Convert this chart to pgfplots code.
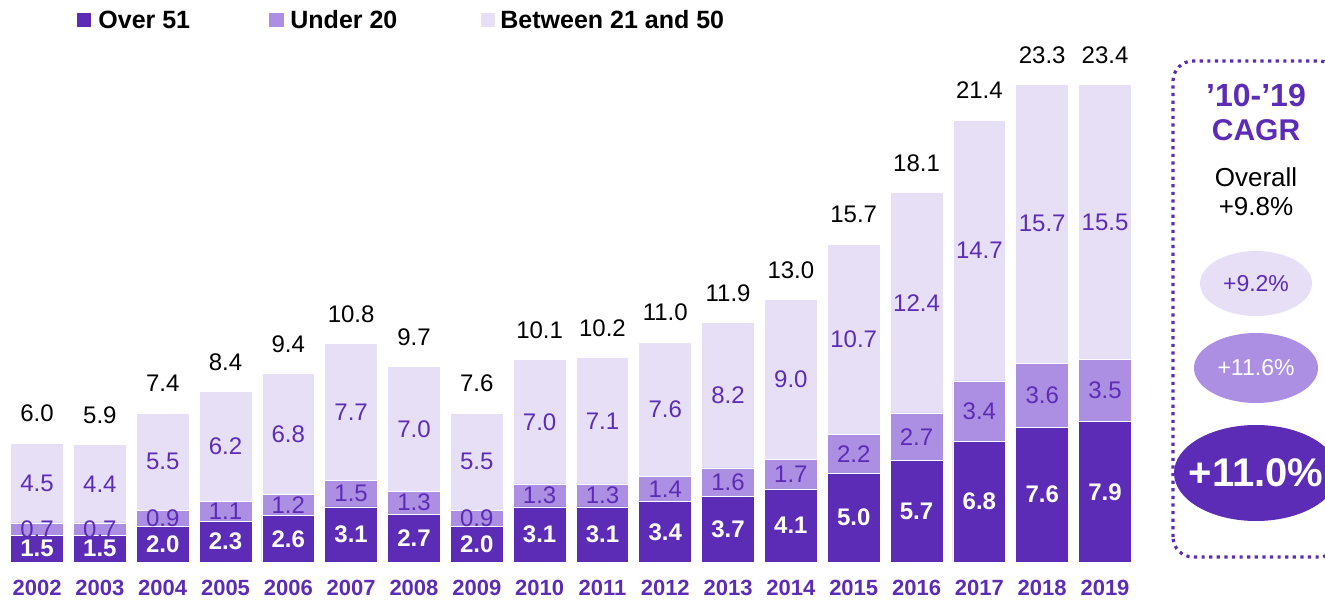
\documentclass[border=0pt]{standalone}
\usepackage{fontspec}
\setmainfont{Liberation Sans}
\usepackage{pgfplots}
\usepackage{pgfplotstable}
\pgfplotsset{compat=1.18}
\definecolor{cdark}{RGB}{92,44,183}
\definecolor{cmed}{RGB}{172,142,226}
\definecolor{clight}{RGB}{230,223,246}

\pgfplotstableread{
year over under between total
2002 1.5 0.7 4.5 6.0
2003 1.5 0.7 4.4 5.9
2004 2.0 0.9 5.5 7.4
2005 2.3 1.1 6.2 8.4
2006 2.6 1.2 6.8 9.4
2007 3.1 1.5 7.7 10.8
2008 2.7 1.3 7.0 9.7
2009 2.0 0.9 5.5 7.6
2010 3.1 1.3 7.0 10.1
2011 3.1 1.3 7.1 10.2
2012 3.4 1.4 7.6 11.0
2013 3.7 1.6 8.2 11.9
2014 4.1 1.7 9.0 13.0
2015 5.0 2.2 10.7 15.7
2016 5.7 2.7 12.4 18.1
2017 6.8 3.4 14.7 21.4
2018 7.6 3.6 15.7 23.3
2019 7.9 3.5 15.5 23.4
}\datatable

\pgfplotsset{
  commonaxis/.style={
    at={(0,0)}, anchor=south west,
    scale only axis,
    x=31.41pt, y=8.875pt,
    xmin=2001.45, xmax=2019.55, ymin=0, ymax=28,
    clip=false,
  },
  lbl/.style={
    draw=none, mark=none,
    nodes near coords={\pgfmathprintnumber[fixed,fixed zerofill,precision=1,assume math mode=true]{\pgfplotspointmeta}},
    every node near coord/.append style={anchor=center, inner sep=0pt},
  },
}

\begin{document}
\begin{tikzpicture}
\begin{axis}[
  commonaxis,
  ybar stacked, bar width=26.4pt,
  axis line style={draw=none},
  ytick=\empty,
  xtick={2002,2003,2004,2005,2006,2007,2008,2009,2010,2011,2012,2013,2014,2015,2016,2017,2018,2019},
  xticklabels={2002,2003,2004,2005,2006,2007,2008,2009,2010,2011,2012,2013,2014,2015,2016,2017,2018,2019},
  xtick style={draw=none},
  xticklabel style={font=\fontsize{11}{13}\selectfont\bfseries, text=cdark, anchor=center, yshift=-13pt},
]
\addplot[fill=cdark, draw=white, line width=0.4pt] table[x=year, y=over]{\datatable};
\addplot[fill=cmed, draw=white, line width=0.4pt] table[x=year, y=under]{\datatable};
\addplot[fill=clight, draw=white, line width=0.4pt] table[x=year, y=between]{\datatable};
\end{axis}

\begin{axis}[commonaxis, hide axis, point meta=explicit]
\addplot[lbl, every node near coord/.append style={font=\bfseries\fontsize{12}{14}\selectfont, text=white}]
  table[x=year, y expr=0.5*\thisrow{over}, meta=over]{\datatable};
\addplot[lbl, every node near coord/.append style={font=\fontsize{12}{14}\selectfont, text=cdark}]
  table[x=year, y expr=\thisrow{over}+0.5*\thisrow{under}, meta=under]{\datatable};
\addplot[lbl, every node near coord/.append style={font=\fontsize{12}{14}\selectfont, text=cdark}]
  table[x=year, y expr=\thisrow{over}+\thisrow{under}+0.5*\thisrow{between}, meta=between]{\datatable};
\addplot[lbl, every node near coord/.append style={font=\fontsize{12}{14}\selectfont, text=black, yshift=14.75pt}]
  table[x=year, y expr=\thisrow{over}+\thisrow{under}+\thisrow{between}, meta=total]{\datatable};
\end{axis}

% legend
\fill[cdark] (37.25pt,267.5pt) rectangle (44.25pt,274.5pt);
\node[anchor=west, inner sep=0pt, font=\bfseries\fontsize{12.5}{14}\selectfont] at (47.75pt,271pt) {Over 51};
\fill[cmed] (133.25pt,267.5pt) rectangle (140.75pt,274.5pt);
\node[anchor=west, inner sep=0pt, font=\bfseries\fontsize{12.5}{14}\selectfont] at (143.75pt,271pt) {Under 20};
\fill[clight] (239.25pt,267.5pt) rectangle (246.25pt,274.5pt);
\node[anchor=west, inner sep=0pt, font=\bfseries\fontsize{12.5}{14}\selectfont] at (248.75pt,271pt) {Between 21 and 50};

% right panel
\begin{scope}
\clip (-1.25pt,-18.5pt) rectangle (661.25pt,281pt);
\draw[cdark, line width=1.6pt, dash pattern=on 1.6pt off 2.2pt, rounded corners=10pt] (585.25pt,2.5pt) rectangle (668.25pt,250.5pt);
\node[font=\bfseries\fontsize{16}{18}\selectfont, text=cdark] at (626.75pt,233.5pt) {’10-’19};
\node[font=\bfseries\fontsize{15}{17}\selectfont, text=cdark] at (626.75pt,216pt) {CAGR};
\node[font=\fontsize{13}{15}\selectfont] at (626.75pt,192.5pt) {Overall};
\node[font=\fontsize{13}{15}\selectfont] at (626.75pt,177.5pt) {+9.8\%};
\fill[clight] (626.75pt,139.25pt) ellipse [x radius=28pt, y radius=16.25pt];
\node[font=\fontsize{11.5}{13}\selectfont, text=cdark] at (626.75pt,139.25pt) {+9.2\%};
\fill[cmed] (626.75pt,97pt) ellipse [x radius=31pt, y radius=17.5pt];
\node[font=\fontsize{11.5}{13}\selectfont, text=white] at (626.75pt,97pt) {+11.6\%};
\fill[cdark] (626.75pt,44.5pt) ellipse [x radius=41pt, y radius=24pt];
\node[font=\bfseries\fontsize{20}{22}\selectfont, text=white] at (626.75pt,44.5pt) {+11.0\%};
\end{scope}

\pgfresetboundingbox
\path[use as bounding box] (-1.25pt,-18.5pt) rectangle (661.25pt,281pt);
\end{tikzpicture}
\end{document}
